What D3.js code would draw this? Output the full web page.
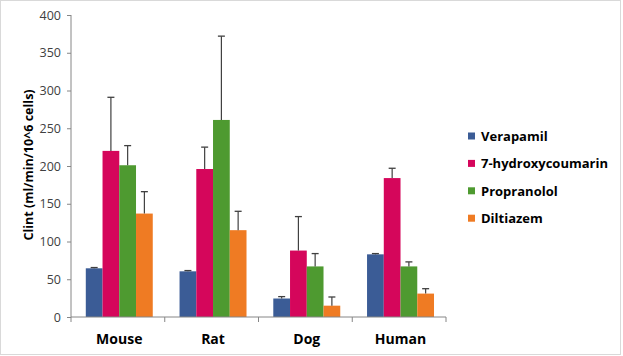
<!DOCTYPE html>
<html><head><meta charset="utf-8">
<script src="https://cdn.jsdelivr.net/npm/d3@7"></script>
<style>body{margin:0;background:#fff}svg{display:block}</style>
</head><body>
<svg id="c" width="623" height="356"></svg>
<script>
const categories = ["Mouse", "Rat", "Dog", "Human"];
const seriesNames = ["Verapamil", "7-hydroxycoumarin", "Propranolol", "Diltiazem"];
const verapamil = [64.5, 60.5, 24.5, 83];
const hydroxycoumarin = [220, 196, 88, 184];
const propranolol = [201, 261, 67, 67];
const diltiazem = [137, 115, 15, 31];
const verapamilErr = [1, 1, 2.5, 1];
const hydroxycoumarinErr = [71, 29, 45, 13];
const propranololErr = [26, 111, 17, 6];
const diltiazemErr = [29, 25, 11.5, 6.5];
const yTicks = [0, 50, 100, 150, 200, 250, 300, 350, 400];
const colors = ["#3b5c96", "#d5065b", "#4e9a30", "#ef7b23"];

const values = [verapamil, hydroxycoumarin, propranolol, diltiazem];
const errs = [verapamilErr, hydroxycoumarinErr, propranololErr, diltiazemErr];

const svg = d3.select("#c");
const font = "'Open Sans', sans-serif";
svg.append("rect").attr("x",0.5).attr("y",0.5).attr("width",620).attr("height",354)
  .attr("fill","#fff").attr("stroke","#d9d9d9");

const mLeft = 71, mRight = 446, mTop = 15, mBottom = 317;
const x = d3.scaleBand().domain(categories).range([mLeft, mRight]).paddingInner(0).paddingOuter(0);
const x1 = d3.scaleBand().domain(seriesNames).range([1.4, x.bandwidth() + 1.4]).paddingInner(0).paddingOuter(0.8);
const y = d3.scaleLinear().domain([0, 400]).range([mBottom, mTop]);

// y axis
const ya = svg.append("g").attr("transform", `translate(${mLeft},0)`)
  .call(d3.axisLeft(y).tickValues(yTicks).tickSize(4).tickPadding(6));
ya.select(".domain").attr("stroke", "#868686").attr("d", `M-0,${mBottom}V${mTop}`);
ya.selectAll(".tick line").attr("stroke", "#868686");
ya.selectAll(".tick text").attr("font-family", font).attr("font-size", "12.5px").attr("fill", "#404040");

// bars
categories.forEach((c, ci) => {
  seriesNames.forEach((s, si) => {
    const v = values[si][ci], e = errs[si][ci];
    const bx = x(c) + x1(s), bw = x1.bandwidth();
    svg.append("rect").attr("x", bx).attr("y", y(v)).attr("width", bw).attr("height", y(0) - y(v))
      .attr("fill", colors[si]);
    const cx = bx + bw / 2;
    svg.append("line").attr("x1", cx).attr("x2", cx).attr("y1", y(v)).attr("y2", y(v + e))
      .attr("stroke", "#404040").attr("stroke-width", 1.2);
    svg.append("line").attr("x1", cx - 3.5).attr("x2", cx + 3.5).attr("y1", y(v + e)).attr("y2", y(v + e))
      .attr("stroke", "#404040").attr("stroke-width", 1.3);
  });
});

// x axis
const xa = svg.append("g").attr("transform", `translate(0,${mBottom})`);
xa.append("line").attr("x1", mLeft).attr("x2", mRight).attr("y1", 0).attr("y2", 0).attr("stroke", "#868686");
const bounds = categories.map(c => x(c)).concat([mRight]);
xa.selectAll("line.tk").data(bounds).enter().append("line").attr("class","tk")
  .attr("x1", d => d).attr("x2", d => d).attr("y1", 0).attr("y2", 5).attr("stroke", "#868686");
xa.selectAll("text").data(categories).enter().append("text")
  .attr("x", d => x(d) + x.bandwidth() / 2 + 1.4).attr("y", 26.5)
  .attr("text-anchor", "middle").attr("font-family", font).attr("font-weight", "bold")
  .attr("font-size", "14px").attr("fill", "#000").text(d => d);

// y title
svg.append("text").attr("transform", "translate(32.5,165) rotate(-90)")
  .attr("text-anchor", "middle").attr("font-family", font).attr("font-weight", "bold")
  .attr("font-size", "12.5px").attr("fill", "#000").text("Clint (ml/min/10^6 cells)");

// legend
const lg = svg.append("g");
seriesNames.forEach((s, i) => {
  const cy = 136 + i * 27.4;
  lg.append("rect").attr("x", 468).attr("y", cy - 3.5).attr("width", 7).attr("height", 7).attr("fill", colors[i]);
  lg.append("text").attr("x", 481).attr("y", cy + 4.8).attr("font-family", font).attr("font-weight", "bold")
    .attr("font-size", "13px").attr("fill", "#000").text(s);
});
</script>
</body></html>
